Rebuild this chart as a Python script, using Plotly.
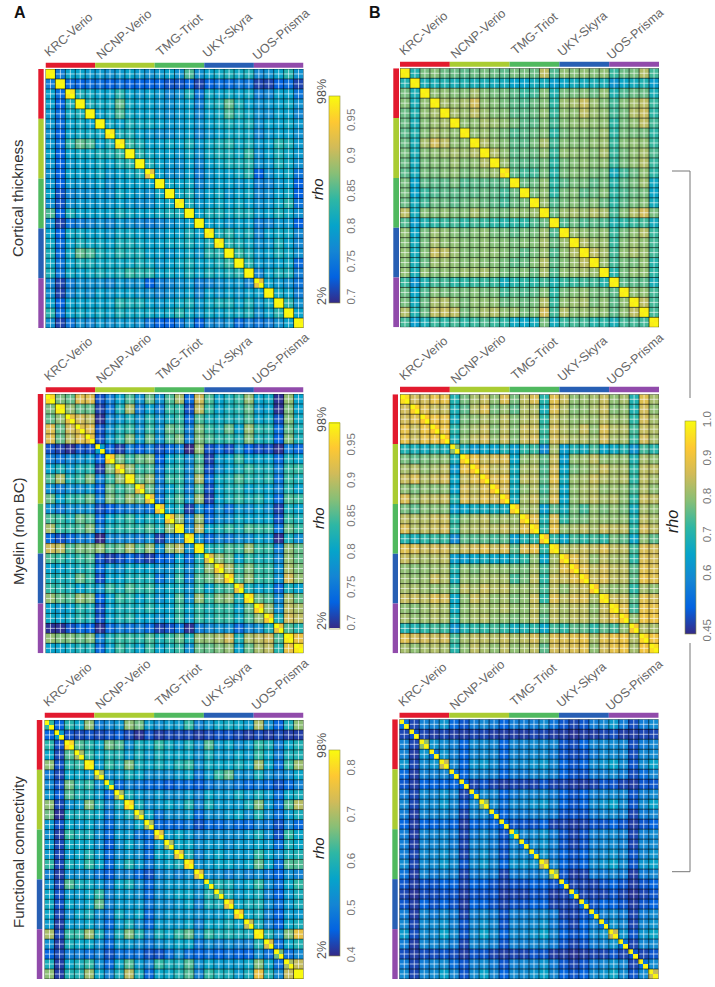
import plotly.graph_objects as go

W, H = 715, 987
sites = ["KRC-Verio", "NCNP-Verio", "TMG-Triot", "UKY-Skyra", "UOS-Prisma"]
site_sizes = [5, 6, 5, 5, 5]
site_colors = ["#e21a2e", "#aacc32", "#50b95f", "#285fb4", "#914bab"]

# Upper triangles (rho x 100), one row per participant
thick_a = [
[76,80,80,79,79,78,79,80,79,78,79,80,78,85,78,80,81,82,81,82,77,78,80,83,78],
[74,73,74,74,73,74,73,73,73,73,72,72,73,71,73,74,74,75,75,71,71,73,74,71],
[82,81,80,80,83,80,79,80,79,77,78,82,75,81,80,81,80,81,76,77,80,80,75],
[82,81,81,86,81,80,80,79,78,79,80,76,81,82,86,82,80,78,79,80,81,78],
[80,81,85,81,80,80,79,78,79,80,77,80,81,85,82,81,78,78,80,80,77],
[81,80,82,81,81,80,79,79,80,78,80,81,82,81,82,78,80,80,81,79],
[82,82,80,79,78,78,79,80,77,79,80,81,81,81,77,79,80,80,78],
[84,82,80,80,81,80,82,79,81,82,83,81,82,79,80,83,82,79],
[83,81,80,80,79,81,78,81,82,82,81,84,78,80,82,81,79],
[82,80,79,78,80,77,80,81,82,82,83,78,79,82,81,78],
[80,78,78,80,76,79,80,80,81,83,73,78,80,81,75],
[81,80,81,77,79,80,80,79,80,76,77,79,80,73],
[81,82,78,80,81,79,80,81,77,78,80,81,73],
[82,79,80,81,80,81,80,78,79,81,83,75],
[80,82,82,81,82,82,79,80,82,81,78],
[80,80,79,80,80,76,77,79,79,73],
[82,83,81,82,77,80,81,81,77],
[83,82,81,78,79,82,80,77],
[84,82,79,80,82,81,78],
[83,79,79,80,81,74],
[77,80,82,82,76],
[80,79,78,75],
[81,80,76],
[83,78],
[80],
]
thick_b = [
[70,78,79,77,77,76,77,78,77,76,78,78,77,84,75,80,79,80,79,80,73,77,78,83,74],
[69,69,70,69,70,69,69,68,68,65,65,68,68,64,66,68,68,69,69,62,66,68,70,64],
[80,80,79,79,82,79,78,78,76,73,74,79,70,78,78,79,77,80,70,75,77,77,69],
[82,81,82,86,80,79,78,76,75,77,79,72,81,82,85,81,79,74,79,82,84,73],
[82,81,84,81,79,79,76,76,77,80,73,80,80,84,81,80,74,78,83,85,72],
[80,80,82,81,80,78,76,76,79,74,79,80,81,80,80,72,78,80,84,74],
[80,81,79,78,75,76,77,79,72,78,79,79,79,81,72,78,78,78,72],
[83,80,79,76,76,78,82,74,79,79,79,80,81,73,79,80,80,73],
[83,80,76,77,77,80,73,80,80,80,79,82,73,78,80,82,75],
[81,76,76,76,78,72,78,79,80,79,80,73,78,80,83,73],
[76,74,74,78,71,78,79,79,78,78,68,74,77,80,72],
[77,77,80,72,76,78,78,76,78,71,76,78,81,67],
[78,80,72,78,79,76,77,79,72,75,77,78,66],
[81,75,78,79,78,79,77,72,76,78,79,68],
[77,81,82,81,83,82,74,79,83,86,78],
[75,77,75,76,75,70,72,73,74,68],
[81,80,79,80,73,78,80,83,73],
[83,81,81,73,79,81,80,74],
[84,82,74,80,82,81,74],
[81,74,78,78,80,71],
[71,78,80,80,72],
[76,76,76,69],
[80,80,74],
[84,74],
[74],
]
myelin_a = [
[87,86,92,92,72,76,80,85,78,86,78,85,89,74,91,85,80,82,84,88,80,81,70,88,80],
[88,86,86,71,75,82,89,76,80,76,84,84,72,90,84,80,82,83,86,79,80,70,87,80],
[91,90,70,77,79,82,78,83,78,82,84,74,85,82,81,82,82,85,80,81,72,87,81],
[92,72,78,82,84,78,84,78,86,85,76,87,84,82,86,80,88,83,83,74,86,82],
[72,79,83,87,79,86,78,85,87,76,87,85,83,84,82,87,82,82,73,87,82],
[73,71,76,73,76,72,74,76,69,88,72,74,72,78,73,72,72,70,76,74],
[87,84,86,87,73,80,82,77,85,71,79,80,84,80,80,80,74,82,80],
[88,84,85,75,82,83,77,86,72,78,80,82,84,82,82,76,84,84],
[86,88,76,84,84,77,89,74,81,82,85,83,82,83,75,84,82],
[86,76,80,83,76,85,72,80,82,83,80,81,80,76,83,80],
[75,82,85,78,88,71,80,82,84,82,83,80,74,85,84],
[80,82,71,78,73,78,75,79,78,80,78,71,82,80],
[88,76,88,74,78,78,81,80,80,80,72,84,82],
[77,90,80,82,84,82,85,84,84,75,86,84],
[78,74,77,76,78,78,80,79,70,82,78],
[82,83,85,84,88,84,84,76,88,86],
[88,86,80,84,82,82,77,88,86],
[89,84,87,84,84,78,89,87],
[85,88,84,84,78,91,88],
[82,80,81,74,82,80],
[86,85,77,89,86],
[88,78,90,89],
[82,91,90],
[85,83],
[93],
]
myelin_b = [
[86,86,89,89,70,78,82,85,80,87,78,84,87,71,88,85,80,81,82,85,80,82,70,88,82],
[88,85,85,69,76,83,87,78,81,76,83,83,69,87,83,79,80,82,85,79,80,70,86,80],
[90,89,68,78,80,83,80,84,79,83,84,72,85,82,80,81,81,84,81,81,72,86,82],
[90,71,79,82,85,79,84,79,85,85,73,86,83,81,85,80,87,83,83,74,85,83],
[69,80,84,86,80,85,79,85,86,73,86,84,82,83,81,86,82,82,73,86,82],
[68,63,66,65,70,64,72,73,60,82,64,70,68,74,66,67,70,62,74,71],
[89,85,86,87,66,80,82,76,85,64,80,81,84,80,80,80,70,82,80],
[88,84,85,68,82,83,75,86,66,78,80,82,85,82,82,72,84,84],
[87,88,68,84,84,76,88,68,81,82,85,83,82,83,72,84,82],
[86,68,80,83,74,85,66,80,82,83,80,81,80,74,83,80],
[68,82,85,76,87,66,80,82,84,82,83,80,72,85,84],
[81,82,64,76,68,78,74,80,78,80,78,68,82,80],
[88,70,87,72,78,78,81,80,80,80,70,84,82],
[72,89,80,82,84,82,85,84,84,72,86,84],
[72,66,74,72,74,72,78,76,66,80,76],
[82,83,85,84,87,84,84,74,87,86],
[88,85,80,84,82,82,72,87,86],
[88,84,86,84,84,76,88,87],
[85,87,84,84,76,89,88],
[82,80,81,72,82,80],
[85,85,76,88,86],
[88,74,89,89],
[80,90,90],
[83,82],
[91],
]
func_a = [
[46,61,57,68,50,52,54,68,66,55,53,55,55,62,51,54,57,58,57,55,70,53,46,59,68],
[44,43,44,43,44,45,43,41,44,42,43,43,43,42,43,44,44,43,42,43,42,43,42,42],
[64,61,57,66,64,53,59,57,62,58,55,59,53,64,55,57,53,55,62,59,50,57,60],
[62,57,60,60,55,59,55,59,57,57,57,53,59,55,55,57,55,62,57,50,59,60],
[55,62,59,67,59,57,59,57,60,62,53,58,57,57,59,57,69,57,48,62,69],
[53,55,59,57,53,53,53,55,57,49,55,62,65,53,53,59,53,50,53,57],
[47,51,49,47,47,45,47,47,45,49,51,51,49,47,49,47,44,47,51],
[59,55,53,55,53,53,55,51,57,55,55,58,55,59,55,48,57,59],
[59,53,55,57,55,60,51,59,55,55,55,59,67,55,48,64,71],
[57,49,53,53,55,47,53,53,55,57,53,60,53,48,55,59],
[47,47,47,49,44,47,47,49,47,47,51,49,44,51,47],
[55,57,55,51,53,53,53,53,55,59,53,44,62,57],
[57,57,53,55,55,53,55,55,57,55,48,59,57],
[59,51,55,57,55,55,55,62,57,53,59,60],
[53,55,57,57,55,57,65,57,48,64,64],
[53,53,51,53,51,53,49,46,53,51],
[60,59,55,57,62,53,48,57,62],
[59,55,57,59,51,46,55,59],
[57,59,60,53,48,55,59],
[57,59,51,46,55,55],
[59,51,46,57,59],
[60,53,67,76],
[48,57,60],
[48,52],
[72],
]
func_b = [
[48,58,58,62,53,50,57,59,57,52,57,57,57,60,55,50,48,50,57,59,63,57,49,57,60],
[48,47,48,47,47,48,48,47,47,47,47,48,48,47,47,46,47,47,48,49,47,47,48,48],
[62,60,58,52,60,60,59,52,59,59,60,60,59,50,49,52,59,60,60,59,49,57,59],
[62,58,52,59,60,59,52,59,59,60,60,57,50,49,50,57,60,60,59,49,59,60],
[59,52,62,63,60,54,60,60,62,63,59,52,50,52,60,62,65,60,50,60,65],
[52,59,59,58,52,57,57,59,60,58,52,50,50,57,58,60,57,49,54,59],
[48,50,48,47,48,48,48,50,48,48,47,47,48,50,50,48,47,50,50],
[60,59,52,57,59,59,60,57,52,50,52,58,59,60,59,50,58,60],
[60,54,60,60,62,63,59,52,50,52,60,62,65,60,50,60,65],
[52,57,57,58,59,57,50,50,50,57,59,60,58,48,57,59],
[50,50,50,52,48,48,47,48,50,50,52,50,47,50,52],
[59,60,62,57,50,48,50,58,59,60,58,48,58,60],
[60,62,58,50,48,50,58,59,60,58,48,59,60],
[62,57,52,50,52,59,60,62,59,50,59,62],
[59,52,50,52,60,62,65,60,50,62,65],
[50,47,48,57,57,59,57,47,57,59],
[48,48,48,50,52,50,47,50,52],
[48,48,48,50,48,46,48,50],
[50,52,52,50,47,50,52],
[58,60,57,48,57,60],
[62,59,48,59,62],
[62,50,62,66],
[48,59,60],
[48,50],
[60],
]
# Within-participant (scan/rescan) rho x 100 on the diagonal blocks
retest_thick_a = [98,98,97,98,98,98,97,97,98,98,93,98,98,97,98,98,97,97,98,98,98,93,98,98,98,98]
retest_thick_b = [98,98,98,98,98,98,98,98,98,98,96,98,98,98,98,98,98,98,98,98,98,98,98,98,98,98]
retest_myelin_a = [96,97,93,92,93,80,95,93,97,93,93,94,94,97,96,97,92,94,95,93,96,95,94,93,97,97]
retest_myelin_b = [96,94,93,93,93,80,94,93,93,93,93,94,94,95,93,96,94,93,94,93,96,96,94,92,95,96]
retest_func_a = [62,55,80,70,82,70,60,70,80,70,70,75,70,75,80,75,60,65,76,78,72,82,74,66,70,84]
retest_func_b = [55,50,80,55,85,55,52,55,80,55,52,65,55,58,85,80,52,55,55,55,55,85,55,50,55,85]

def block_matrix(tri, retest, top):
    n = len(retest)
    assert len(tri) == n - 1
    z = [[None] * (2 * n) for _ in range(2 * n)]
    for i in range(n):
        for a in (0, 1):
            for b in (0, 1):
                z[2*i+a][2*i+b] = (top if a == b else retest[i]) / 100
        if i < n - 1:
            assert len(tri[i]) == n - 1 - i, i
            for j, v in zip(range(i + 1, n), tri[i]):
                for a in (0, 1):
                    for b in (0, 1):
                        z[2*i+a][2*j+b] = v / 100
                        z[2*j+b][2*i+a] = v / 100
    return z

parula = [[0, "#352a87"], [0.125, "#0363e1"], [0.25, "#1485d4"], [0.375, "#06a4ca"],
          [0.5, "#2eb7a4"], [0.625, "#87bf77"], [0.75, "#d1bb59"], [0.875, "#fec832"], [1, "#f9fb0e"]]

panels = [
    dict(tri=thick_a, re=retest_thick_a, top=99, zr=(0.693, 0.986), hx=(45.5, 303.5), hy=(69, 328), bar=(62.7, 67.7), lb=(38.3, 43.7)),
    dict(tri=myelin_a, re=retest_myelin_a, top=99, zr=(0.694, 0.983), hx=(45.5, 303.5), hy=(394, 653.3), bar=(387.3, 392.3), lb=(37.8, 43.2)),
    dict(tri=func_a, re=retest_func_a, top=84, zr=(0.40, 0.841), hx=(44.5, 303.5), hy=(720, 979), bar=(712.7, 717.7), lb=(36.8, 42.3)),
    dict(tri=thick_b, re=retest_thick_b, top=99, zr=(0.445, 1.0), hx=(400, 659), hy=(68.3, 327.3), bar=(61.7, 66.7), lb=(393.3, 399)),
    dict(tri=myelin_b, re=retest_myelin_b, top=99, zr=(0.445, 1.0), hx=(400, 659), hy=(394.3, 653.3), bar=(386.7, 392.3), lb=(392.7, 398)),
    dict(tri=func_b, re=retest_func_b, top=99, zr=(0.445, 1.0), hx=(399.3, 658.7), hy=(719.3, 979), bar=(712.7, 717.7), lb=(392.3, 397.7)),
]
colorbars = {
    0: dict(x=329, w=10.5, y=(96, 303.3), tv=[0.7, 0.75, 0.8, 0.85, 0.9, 0.95], tt=["0.7", "0.75", "0.8", "0.85", "0.9", "0.95"]),
    1: dict(x=329, w=10.5, y=(422.7, 628.3), tv=[0.7, 0.75, 0.8, 0.85, 0.9, 0.95], tt=["0.7", "0.75", "0.8", "0.85", "0.9", "0.95"]),
    2: dict(x=329, w=10.5, y=(750, 956), tv=[0.4, 0.5, 0.6, 0.7, 0.8], tt=["0.4", "0.5", "0.6", "0.7", "0.8"]),
    4: dict(x=685, w=10.7, y=(420.7, 634), tv=[0.45, 0.6, 0.7, 0.8, 0.9, 1.0], tt=["0.45", "0.6", "0.7", "0.8", "0.9", "1.0"]),
}

def fx(p): return p / W
def fy(p): return 1 - p / H

FONT = "Liberation Sans"
fig = go.Figure()
shapes, annos = [], []
label_dx = [23, 78, 134, 182, 235]

for k, p in enumerate(panels):
    ax = "" if k == 0 else str(k + 1)
    xa, ya = "x" + ax, "y" + ax
    z = block_matrix(p["tri"], p["re"], p["top"])
    N = len(z)
    cb = colorbars.get(k)
    trace = dict(z=z, x0=0.5, dx=1, y0=0.5, dy=1, xaxis=xa, yaxis=ya, colorscale=parula,
                 zmin=p["zr"][0], zmax=p["zr"][1], showscale=cb is not None, hoverinfo="skip")
    if cb:
        trace["colorbar"] = dict(x=fx(cb["x"]), xanchor="left", xpad=0, ypad=0,
                                 y=fy((cb["y"][0] + cb["y"][1]) / 2), yanchor="middle",
                                 lenmode="pixels", len=cb["y"][1] - cb["y"][0],
                                 thicknessmode="pixels", thickness=cb["w"],
                                 tickvals=cb["tv"], ticktext=cb["tt"], tickangle=-90, ticks="",
                                 tickfont=dict(family=FONT, size=11.5, color="#777777"),
                                 outlinecolor="#8f9040", outlinewidth=0.6)
    fig.add_trace(go.Heatmap(**trace))
    # white mid-cell lines skip the participant's own block; black lines mark block edges
    wx, wy, bx, by = [], [], [], []
    for i in range(N // 2):
        m = 2 * i + 1
        wx += [0, m - 1, None, m + 1, N, None]; wy += [m, m, None, m, m, None]
        wx += [m, m, None, m, m, None]; wy += [0, m - 1, None, m + 1, N, None]
    for e in range(0, N + 1, 2):
        bx += [0, N, None, e, e, None]; by += [e, e, None, 0, N, None]
    fig.add_trace(go.Scatter(x=wx, y=wy, xaxis=xa, yaxis=ya, mode="lines", hoverinfo="skip", showlegend=False,
                             line=dict(color="rgba(255,255,255,0.7)", width=0.9)))
    fig.add_trace(go.Scatter(x=bx, y=by, xaxis=xa, yaxis=ya, mode="lines", hoverinfo="skip", showlegend=False,
                             line=dict(color="rgba(0,0,0,0.75)", width=0.8)))
    fig.update_layout(**{
        "xaxis" + ax: dict(domain=[fx(p["hx"][0]), fx(p["hx"][1])], range=[0, N], visible=False),
        "yaxis" + ax: dict(domain=[fy(p["hy"][1]), fy(p["hy"][0])], range=[N, 0], visible=False),
    })
    start = 0
    for size, col, name, dx in zip(site_sizes, site_colors, sites, label_dx):
        a, b = start * 2, (start + size) * 2
        shapes.append(dict(type="rect", xref=xa, yref="paper", x0=a, x1=b, y0=fy(p["bar"][1]), y1=fy(p["bar"][0]),
                           fillcolor=col, line_width=0, layer="above"))
        shapes.append(dict(type="rect", xref="paper", yref=ya, x0=fx(p["lb"][0]), x1=fx(p["lb"][1]), y0=a, y1=b,
                           fillcolor=col, line_width=0, layer="above"))
        annos.append(dict(text=name, xref="paper", yref="paper", x=fx(p["hx"][0] + dx), y=fy(p["bar"][0] - 28),
                          showarrow=False, textangle=-41, xanchor="center", yanchor="middle",
                          font=dict(family=FONT, size=12.5, color="#666666")))
        start += size

def text(t, x, y, size, angle=0, color="#333333"):
    annos.append(dict(text=t, xref="paper", yref="paper", x=fx(x), y=fy(y), showarrow=False, textangle=angle,
                      xanchor="center", yanchor="middle", font=dict(family=FONT, size=size, color=color)))

text("<b>A</b>", 20, 13, 16, color="#111111")
text("<b>B</b>", 375, 13, 16, color="#111111")
text("Cortical thickness", 18, 198, 15, -90)
text("Myelin (non BC)", 18, 531, 15, -90)
text("Functional connectivity", 18, 852, 15, -90)
for rho_y, hi_y, lo_y in [(189, 92, 296), (518, 420, 621), (848, 746, 950)]:
    text("<i>rho</i>", 318, rho_y, 15, -90, "#222222")
    text("98%", 322, hi_y, 12.5, -90, "#555555")
    text("2%", 322, lo_y, 12.5, -90, "#555555")
text("<i>rho</i>", 672, 522, 16, -90, "#222222")

for xs, ys in [((672, 690, 690), (171, 171, 398)), ((672, 690, 690), (871.7, 871.7, 643))]:
    for (x0, x1), (y0, y1) in zip(zip(xs, xs[1:]), zip(ys, ys[1:])):
        shapes.append(dict(type="line", xref="paper", yref="paper", x0=fx(x0), x1=fx(x1), y0=fy(y0), y1=fy(y1),
                           line=dict(color="#777777", width=1)))

fig.update_layout(width=W, height=H, margin=dict(l=0, r=0, t=0, b=0), paper_bgcolor="white", plot_bgcolor="white",
                  shapes=shapes, annotations=annos, showlegend=False, font=dict(family=FONT))
fig.write_html("out.html", post_script="document.body.style.margin='0';", config=dict(displayModeBar=False))
